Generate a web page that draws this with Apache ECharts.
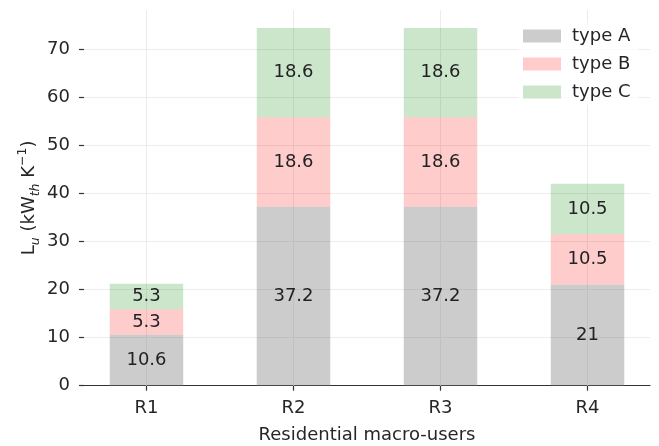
<!DOCTYPE html>
<html>
<head>
<meta charset="utf-8">
<script src="https://cdn.jsdelivr.net/npm/echarts@6/dist/echarts.min.js"></script>
<style>
  html, body { margin: 0; padding: 0; background: #fff; }
  #chart { width: 659px; height: 446px; }
</style>
</head>
<body>
<div id="chart"></div>
<script>
// Heat loss coefficient per residential macro-user, split by building type
const categories = ['R1', 'R2', 'R3', 'R4'];
const typeA = [10.6, 37.2, 37.2, 21];
const typeB = [5.3, 18.6, 18.6, 10.5];
const typeC = [5.3, 18.6, 18.6, 10.5];
const yTicks = [0, 10, 20, 30, 40, 50, 60, 70];
const seriesNames = ['type A', 'type B', 'type C'];

const FONT = 'DejaVu Sans';
const TEXT = '#262626';

const chart = echarts.init(document.getElementById('chart'), null, { renderer: 'canvas' });

const xPositions = categories.map((_, i) => i);

// Each item is [value, position]; the value comes first so the stack runs along y.
function barSeries(name, values, color) {
  return {
    name: name,
    type: 'bar',
    stack: 'total',
    barWidth: '50%',
    z: 3,
    dimensions: ['value', 'pos'],
    encode: { x: 'pos', y: 'value' },
    data: values.map((v, i) => [v, i]),
    itemStyle: { color: color },
    label: {
      show: true,
      position: 'inside',
      color: '#222',
      fontFamily: FONT,
      fontSize: 18,
      formatter: p => String(p.value[0])
    },
    emphasis: { disabled: true }
  };
}

const gridColor = '#ececec';

const option = {
  animation: false,
  backgroundColor: '#fff',
  grid: { left: 84, right: 9, top: 10, bottom: 60.3, containLabel: false, outerBoundsMode: 'none' },
  legend: {
    orient: 'vertical',
    left: 519,
    top: 23,
    z: 10,
    itemWidth: 38,
    itemHeight: 13,
    itemGap: 10,
    icon: 'rect',
    data: seriesNames,
    textStyle: { fontFamily: FONT, fontSize: 18, color: TEXT, padding: [0, 0, 0, 6], lineHeight: 18 },
    backgroundColor: 'rgba(255,255,255,0.8)',
    padding: [4, 8, 4, 4]
  },
  xAxis: {
    type: 'value',
    min: -0.425,
    max: 3.425,
    name: 'Residential macro-users',
    nameLocation: 'middle',
    nameGap: 41,
    nameTextStyle: { fontFamily: FONT, fontSize: 18, color: TEXT },
    axisLine: { show: true, onZero: false, lineStyle: { color: '#333', width: 1.2 } },
    axisTick: { show: true, length: 5, lineStyle: { color: '#333', width: 1.2 }, customValues: xPositions },
    axisLabel: {
      show: true,
      margin: 14,
      fontFamily: FONT,
      fontSize: 18,
      color: TEXT,
      customValues: xPositions,
      formatter: v => categories[Math.round(v)]
    },
    splitLine: { show: false }
  },
  yAxis: {
    type: 'value',
    min: 0,
    max: 78.12,
    name: '{n|L}{s|u}{n| (kW}{s|th}{n| K}{p|−1}{n|)}',
    nameLocation: 'middle',
    nameRotate: 90,
    nameGap: 42,
    nameMoveOverlap: false,
    nameTextStyle: {
      fontFamily: FONT,
      color: TEXT,
      rich: {
        n: { fontFamily: FONT, fontSize: 18, color: TEXT, lineHeight: 26, verticalAlign: 'middle' },
        s: { fontFamily: FONT, fontSize: 12.5, fontStyle: 'italic', color: TEXT, lineHeight: 26, verticalAlign: 'bottom' },
        p: { fontFamily: FONT, fontSize: 12.5, color: TEXT, lineHeight: 26, verticalAlign: 'top' }
      }
    },
    axisLine: { show: false, onZero: false },
    axisTick: { show: true, length: 5, lineStyle: { color: '#333', width: 1.2 }, customValues: yTicks },
    axisLabel: {
      show: true,
      margin: 14,
      fontFamily: FONT,
      fontSize: 18,
      color: TEXT,
      customValues: yTicks
    },
    splitLine: { show: false }
  },
  series: [
    {
      // background grid drawn behind the translucent bars
      name: 'grid',
      type: 'line',
      data: [],
      z: 1,
      silent: true,
      markLine: {
        silent: true,
        z: 1,
        symbol: 'none',
        label: { show: false },
        lineStyle: { color: gridColor, width: 1, type: 'solid' },
        data: yTicks.filter(v => v > 0).map(v => ({ yAxis: v }))
          .concat(xPositions.map(v => ({ xAxis: v })))
      }
    },
    barSeries(seriesNames[0], typeA, 'rgba(128,128,128,0.4)'),
    barSeries(seriesNames[1], typeB, 'rgba(255,0,0,0.2)'),
    barSeries(seriesNames[2], typeC, 'rgba(0,128,0,0.2)')
  ]
};

chart.setOption(option);
</script>
</body>
</html>
